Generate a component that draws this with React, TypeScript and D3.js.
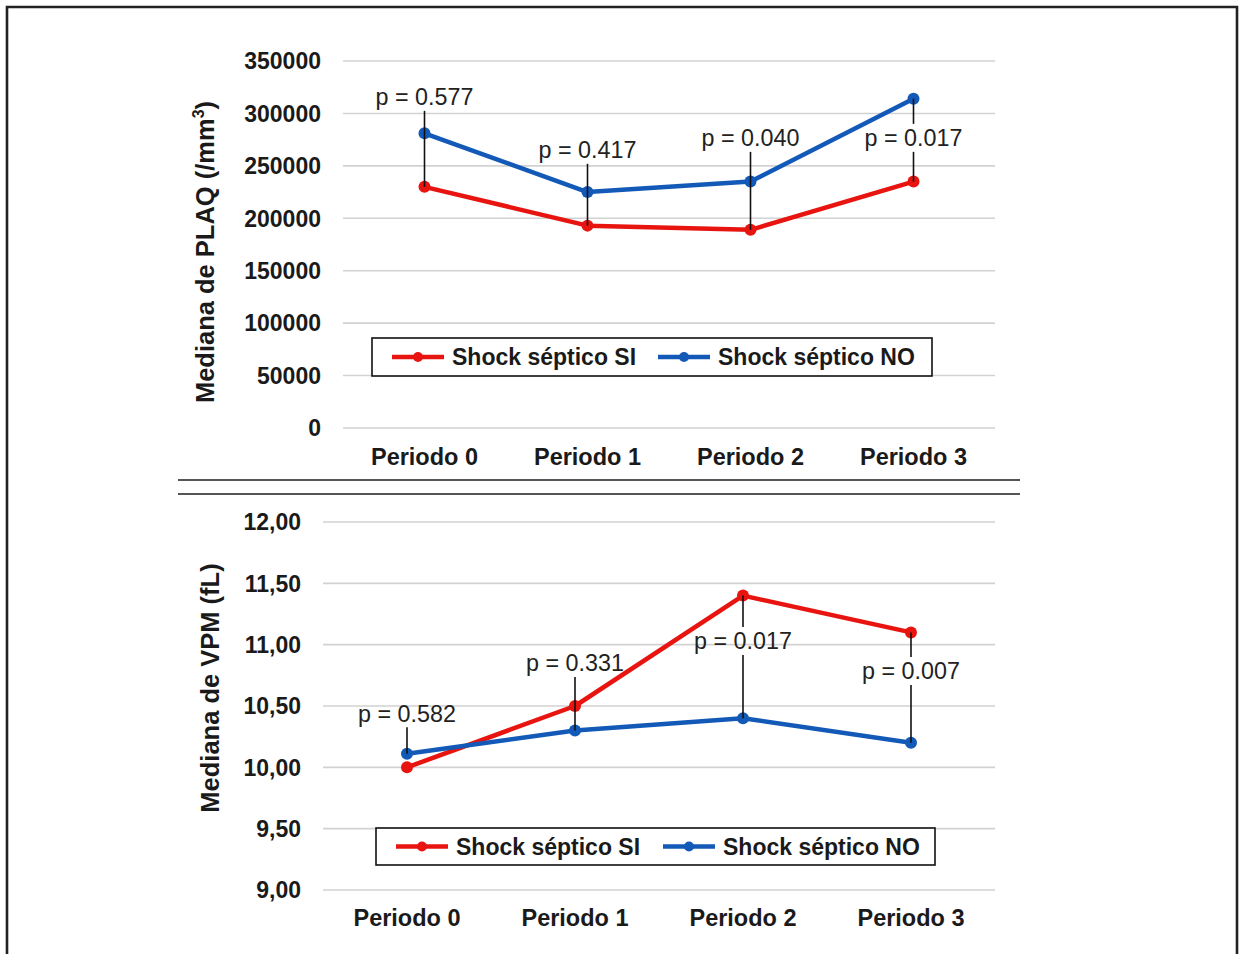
import * as d3 from 'd3';

// ── Data ──────────────────────────────────────────────────────────────────────
const PERIODS = ['Periodo 0', 'Periodo 1', 'Periodo 2', 'Periodo 3'];
const SERIES_NAMES = ['Shock séptico SI', 'Shock séptico NO'];

const PLAQ_SI = [230000, 193000, 189000, 235000];
const PLAQ_NO = [281000, 225000, 235000, 314000];
const PLAQ_TICKS = [0, 50000, 100000, 150000, 200000, 250000, 300000, 350000];
const PLAQ_P = ['0.577', '0.417', '0.040', '0.017'];
// label anchor value (in axis units) for each p label
const PLAQ_P_AT = [315800, 265300, 276700, 276700];
// which points the leader line reaches
const PLAQ_P_TO = [['si'], ['si'], ['si'], ['no', 'si']];

const VPM_SI = [10.0, 10.5, 11.4, 11.1];
const VPM_NO = [10.11, 10.3, 10.4, 10.2];
const VPM_TICKS = [9, 9.5, 10, 10.5, 11, 11.5, 12];
const VPM_P = ['0.582', '0.331', '0.017', '0.007'];
const VPM_P_AT = [10.44, 10.85, 11.03, 10.785];
const VPM_P_TO = [['no'], ['no'], ['si', 'no'], ['si', 'no']];

// ── Colors ────────────────────────────────────────────────────────────────────
const RED  = '#e8140f';
const BLUE = '#1259b8';
const GRID = '#d2d2d2';
const INK  = '#1a1a1a';
const FONT = 'Arial, "Liberation Sans", sans-serif';

const W = 1242;
const H = 954;

type PanelProps = {
  si: number[];
  no: number[];
  ticks: number[];
  fmt: (v: number) => string;
  pTexts: string[];
  pAt: number[];
  pTo: string[][];
  x0: number; x1: number;
  yTop: number; yBot: number;
  tickX: number;
  catY: number;
  titleX: number; titleY: number;
  title: React.ReactNode;
  legend: { x: number; y: number; w: number; h: number; gap: number };
};

function Panel(p: PanelProps) {
  const x = d3.scaleBand<string>().domain(PERIODS).range([p.x0, p.x1]);
  const cx = (c: string) => (x(c) ?? 0) + x.bandwidth() / 2;
  const y = d3.scaleLinear()
    .domain([p.ticks[0], p.ticks[p.ticks.length - 1]])
    .range([p.yBot, p.yTop]);
  const line = d3.line<number>().x((_, i) => cx(PERIODS[i])).y(d => y(d));
  const series = [
    { vals: p.si, color: RED },
    { vals: p.no, color: BLUE },
  ];
  const HALF = 14;

  return (
    <g>
      {p.ticks.map(t => (
        <g key={t}>
          <line x1={p.x0} x2={p.x1} y1={y(t)} y2={y(t)} stroke={GRID} strokeWidth={1.6} />
          <text x={p.tickX} y={y(t)} dy="0.36em" textAnchor="end"
            fontSize={23} fontWeight={700} fill={INK} fontFamily={FONT}>
            {p.fmt(t)}
          </text>
        </g>
      ))}
      {PERIODS.map(c => (
        <text key={c} x={cx(c)} y={p.catY} dy="0.36em" textAnchor="middle"
          fontSize={23.5} fontWeight={700} fill={INK} fontFamily={FONT}>
          {c}
        </text>
      ))}
      <text transform={`translate(${p.titleX},${p.titleY}) rotate(-90)`} textAnchor="middle"
        dy="0.36em" fontSize={25.5} fontWeight={700} fill={INK} fontFamily={FONT}>
        {p.title}
      </text>

      {series.map((s, k) => (
        <g key={k}>
          <path d={line(s.vals) ?? ''} fill="none" stroke={s.color} strokeWidth={4.5}
            strokeLinejoin="round" />
          {s.vals.map((v, i) => (
            <circle key={i} cx={cx(PERIODS[i])} cy={y(v)} r={6} fill={s.color} />
          ))}
        </g>
      ))}

      {/* p-value callouts */}
      {p.pTexts.map((t, i) => {
        const c = PERIODS[i];
        const ly = y(p.pAt[i]);
        const ends = [ly, ...p.pTo[i].map(k => y(k === 'si' ? p.si[i] : p.no[i]))];
        const top = d3.min(ends)!;
        const bot = d3.max(ends)!;
        const segs: [number, number][] = [];
        if (top < ly - HALF) segs.push([top, ly - HALF]);
        if (bot > ly + HALF) segs.push([ly + HALF, bot]);
        return (
          <g key={i}>
            {segs.map((sg, j) => (
              <line key={j} x1={cx(c)} x2={cx(c)} y1={sg[0]} y2={sg[1]} stroke="#111" strokeWidth={1.6} />
            ))}
            <text x={cx(c)} y={ly} dy="0.36em" textAnchor="middle"
              fontSize={23.3} fill="#222" fontFamily={FONT}>
              p = {t}
            </text>
          </g>
        );
      })}

      {/* Legend */}
      <g transform={`translate(${p.legend.x},${p.legend.y})`}>
        <rect x={0} y={0} width={p.legend.w} height={p.legend.h} fill="#fff" stroke="#111" strokeWidth={1.6} />
        {SERIES_NAMES.map((n, i) => (
          <g key={n} transform={`translate(${20 + i * p.legend.gap},${p.legend.h / 2})`}>
            <line x1={0} x2={52} y1={0} y2={0} stroke={i === 0 ? RED : BLUE} strokeWidth={4.5} />
            <circle cx={26} cy={0} r={5} fill={i === 0 ? RED : BLUE} />
            <text x={60} y={0} dy="0.36em" fontSize={23} fontWeight={700} fill={INK} fontFamily={FONT}>
              {n}
            </text>
          </g>
        ))}
      </g>
    </g>
  );
}

export default function App() {
  const fmtPlaq = (v: number) => String(v);
  const fmtVpm = (v: number) => v.toFixed(2).replace('.', ',');

  return (
    <svg width={W} height={H} viewBox={`0 0 ${W} ${H}`}
      style={{ position: 'absolute', left: 0, top: 0, background: '#fff' }}>
      <rect x={0} y={0} width={W} height={H} fill="#fff" />
      <path d={`M7,${H + 5} V7 H1237 V${H + 5}`} fill="none" stroke="#222" strokeWidth={2.6} />

      <Panel
        si={PLAQ_SI} no={PLAQ_NO} ticks={PLAQ_TICKS} fmt={fmtPlaq}
        pTexts={PLAQ_P} pAt={PLAQ_P_AT} pTo={PLAQ_P_TO}
        x0={343} x1={995} yTop={61} yBot={428} tickX={321} catY={457}
        titleX={205} titleY={252}
        title={<>Mediana de PLAQ (/mm<tspan fontSize={16} dy={-10}>3</tspan><tspan dy={10}>)</tspan></>}
        legend={{ x: 372, y: 338, w: 560, h: 38, gap: 266 }}
      />

      <line x1={178} x2={1020} y1={480} y2={480} stroke="#555" strokeWidth={2} />
      <line x1={178} x2={1020} y1={494} y2={494} stroke="#555" strokeWidth={2} />

      <Panel
        si={VPM_SI} no={VPM_NO} ticks={VPM_TICKS} fmt={fmtVpm}
        pTexts={VPM_P} pAt={VPM_P_AT} pTo={VPM_P_TO}
        x0={323} x1={995} yTop={522} yBot={890} tickX={301} catY={918}
        titleX={210} titleY={688}
        title="Mediana de VPM (fL)"
        legend={{ x: 376, y: 828, w: 559, h: 37, gap: 267 }}
      />
    </svg>
  );
}
